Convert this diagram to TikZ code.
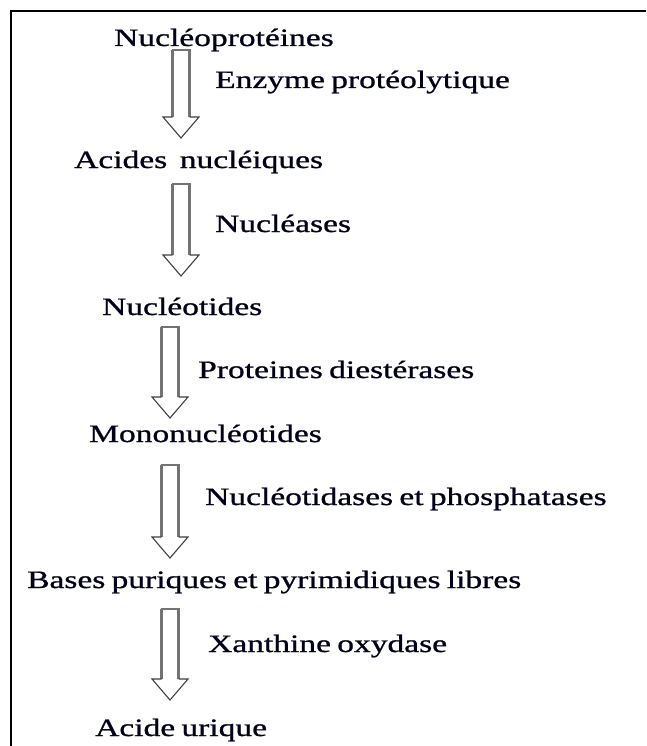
\documentclass[tikz,border=0pt]{standalone}
\usepackage{fontspec}
\setmainfont[FakeStretch=1.34, FakeBold=0.9, WordSpace=0.75]{Liberation Serif}
\usetikzlibrary{calc}

% hollow block arrow pointing down: #1 top of the shaft, #2 tip
\newcommand{\hollowdown}[2]{%
  \draw[shaftline] ($(#1)+(-8.5,0)$) -- ($(#2)+(-8.5,-21)$)
                   ($(#1)+(8.5,0)$) -- ($(#2)+(8.5,-21)$)
                   ($(#1)+(-9.5,0)$) -- ($(#1)+(9.5,0)$);
  \draw[headline] ($(#2)+(-8.5,-21)$) -- ($(#2)+(-18,-21)$) -- (#2)
                  -- ($(#2)+(18,-21)$) -- ($(#2)+(8.5,-21)$);
}

\begin{document}
\begin{tikzpicture}[
    x=1pt, y=-1pt,
    lbl/.style={anchor=base west, inner sep=0pt, text=black!90!blue,
                font=\fontsize{25}{30}\selectfont},
    shaftline/.style={draw=black!55, line width=2.2pt},
    headline/.style={draw=black!75, line width=1.1pt, line join=miter}
]
    \useasboundingbox (0,0) rectangle (646,746);
    \fill[white] (0,0) rectangle (646,746);
    \draw[line width=1.3pt] (10,11) -- (646,11);
    \draw[line width=2.6pt] (11,10.4) -- (11,746);

    \node[lbl] (nucprot) at (114,46) {Nucléoprotéines};
    \node[lbl] (enz) at (215,88) {Enzyme protéolytique};
    \node[lbl] (acides) at (74,168) {Acides\ \ nucléiques};
    \node[lbl] (nucleases) at (215,232) {Nucléases};
    \node[lbl] (nucleot) at (102,315) {Nucléotides};
    \node[lbl] (diest) at (198,378) {Proteines diestérases};
    \node[lbl] (mono) at (89,442) {Mononucléotides};
    \node[lbl] (phosph) at (205,505) {Nucléotidases et phosphatases};
    \node[lbl] (bases) at (27,588) {Bases puriques et pyrimidiques libres};
    \node[lbl] (xanth) at (208,652) {Xanthine oxydase};
    \node[lbl] (urique) at (95,736) {Acide urique};

    \coordinate (top1) at (181,50);  \coordinate (tip1) at (181,138);
    \coordinate (top2) at (181,184); \coordinate (tip2) at (181,276);
    \coordinate (top3) at (170,327); \coordinate (tip3) at (170,418);
    \coordinate (top4) at (170,465); \coordinate (tip4) at (170,558);
    \coordinate (top5) at (170,609); \coordinate (tip5) at (170,700);
    \hollowdown{top1}{tip1}
    \hollowdown{top2}{tip2}
    \hollowdown{top3}{tip3}
    \hollowdown{top4}{tip4}
    \hollowdown{top5}{tip5}
\end{tikzpicture}
\end{document}
